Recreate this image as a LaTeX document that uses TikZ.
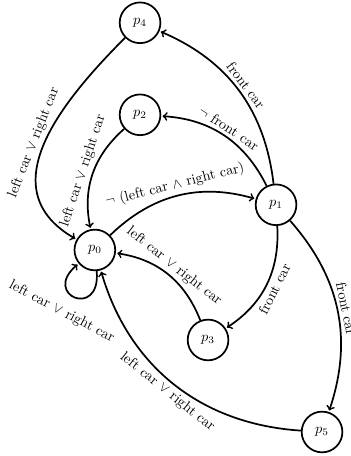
\documentclass[tikz,border=0pt]{standalone}
\usepackage{amsmath}
\usepackage{tikz}
\usetikzlibrary{positioning}
\usetikzlibrary{arrows}

\begin{document}
\begin{tikzpicture}[shorten >=1pt,node distance=1.25cm,on grid,auto,very thick,
        loc/.style={draw, circle, minimum size=1cm, inner sep=0pt},
        el/.style={inner sep=2pt, align=left, sloped}]

        \useasboundingbox (-2.33,-5.06) rectangle (6.29,6.14);

        \node[loc]  (p0)  {$p_0$};
        \node[loc]  (p1) [above right=1.11cm and 4.45cm of p0] {$p_1$};
        \node[loc]  (p2) [above right=3.32cm and 1.11cm of p0] {$p_2$};
        \node[loc]  (p4) [above=2.26cm of p2] {$p_4$};
        \node[loc]  (p3) [below right=2.21cm and 2.78cm of p0] {$p_3$};
        \node[loc]  (p5) [below right=4.47cm and 5.58cm of p0] {$p_5$};

        \path[->]
          (p0) edge [bend left=30] node[el, above] {$\neg$ (left car $\land$ right car)} (p1)
          (p1) edge [bend right=30] node[el, above] {$\neg$ front car} (p2)
          (p1) edge [bend right=30] node[el, above] {front car} (p4)
          (p1) edge [bend left=30] node[el, below] {front car} (p3)
          (p1) edge [bend left=30] node[el, above] {front car} (p5)

          (p4) edge [out=-135, in=150, looseness=1.2] node[el, above] {left car $\lor$ right car} (p0)
          (p2) edge [bend right=30] node[el, above] {left car $\lor$ right car} (p0)
          (p3) edge [bend right=30] node[el, above] {left car $\lor$ right car} (p0)
          (p5) edge [bend left=35] node[el, below] {left car $\lor$ right car} (p0);

        % self loop on p0
        \draw[->] (p0.-85) .. controls +(-85:1.2cm) and +(-140:1.2cm) .. node[inner sep=2pt, anchor=center, xshift=-0.33cm, yshift=-0.35cm, rotate=-28] {left car $\lor$ right car} (p0.-140);

\end{tikzpicture}
\end{document}
